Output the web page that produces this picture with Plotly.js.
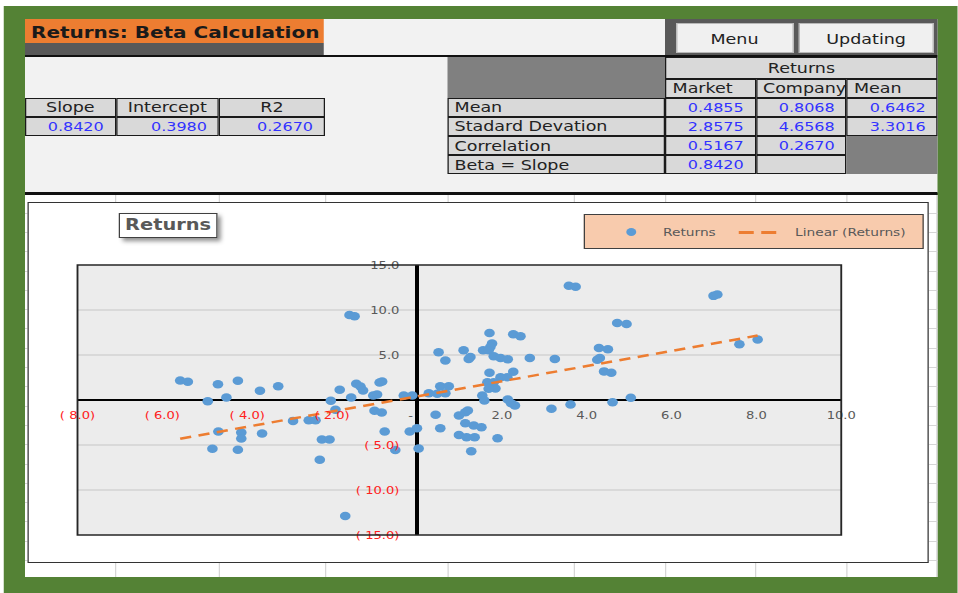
<!DOCTYPE html>
<html>
<head>
<meta charset="utf-8">
<script src="https://cdn.plot.ly/plotly-3.0.1.min.js"></script>
<style>
html,body{margin:0;padding:0;background:#ffffff;overflow:hidden;width:958px;height:593px;}
#page{position:absolute;left:0;top:0;width:766.4px;height:593px;transform:scaleX(1.25);transform-origin:0 0;font-family:"DejaVu Sans",Verdana,sans-serif;}
.b{position:absolute;box-sizing:border-box;white-space:nowrap;overflow:visible;}
</style>
</head>
<body>
<div id="page"></div>
<script>
// ---------------- data ----------------
const marketReturns = [
  -5.58,-5.40,-4.69,-4.22,-3.70,-3.27,-4.93,-4.49,-4.68,-4.14,-4.14,-3.65,-4.82,-4.22,
  -2.92,-2.55,-2.39,-2.24,-2.06,-2.29,-1.69,-1.59,-1.47,-1.82,-1.43,-1.33,-1.27,-1.55,
  -2.03,-1.92,-0.88,-0.82,-1.03,-0.94,-1.00,-0.83,-0.31,-0.11,-0.76,-0.17,0.00,-0.51,0.04,
  0.28,0.48,0.67,0.55,0.75,1.54,1.59,0.44,0.55,0.99,1.14,1.20,1.14,1.34,1.52,0.99,1.17,
  1.36,1.28,1.90,1.71,2.27,2.44,1.77,1.73,0.51,1.10,1.26,1.22,1.56,1.69,0.67,1.81,1.97,
  2.14,2.66,1.71,2.27,1.97,2.13,1.66,1.81,1.85,1.69,2.14,2.22,2.31,3.58,3.74,6.99,7.08,
  4.72,4.94,4.29,4.50,4.31,4.25,3.25,4.41,4.58,7.60,8.03,3.17,3.62,4.61,5.04
];
const companyReturns = [
  2.17,2.03,1.76,2.14,1.03,1.54,-0.13,0.28,-3.51,-3.62,-4.29,-3.73,-5.41,-5.52,
  -2.32,-2.25,-2.25,-4.40,-4.40,-6.63,-12.88,9.45,9.31,1.14,1.80,1.50,1.06,0.28,
  -0.09,-1.09,1.95,2.06,0.50,0.61,-1.20,-1.39,0.50,0.50,-3.51,-3.51,-3.14,-5.55,-5.40,
  0.76,0.69,0.76,1.54,1.54,0.50,-0.06,-1.65,-3.14,-1.73,-1.36,-1.17,-2.58,-2.84,-3.03,-3.88,-4.14,
  -4.14,-5.70,-4.24,7.45,7.30,7.08,6.27,5.89,5.30,5.52,4.77,4.55,5.52,5.52,4.40,4.85,4.66,
  4.52,4.66,3.03,3.14,2.54,2.54,1.98,1.98,1.28,1.25,0.06,-0.36,-0.61,12.69,12.58,11.57,11.73,
  8.56,8.45,5.78,5.63,4.66,4.48,4.55,3.18,3.03,6.19,6.71,-0.98,-0.50,-0.24,0.24
];
const slope = 0.8420;
const intercept = 0.3980;
const regLabels = ["Slope","Intercept","R2"];
const regValues = ["0.8420","0.3980","0.2670"];
const statRowLabels = ["Mean","Stadard Devation","Correlation","Beta = Slope"];
const statColLabels = ["Market","Company","Mean"];
const marketStats = ["0.4855","2.8575","0.5167","0.8420"];
const companyStats = ["0.8068","4.6568","0.2670",""];
const meanStats = ["0.6462","3.3016"];
const xTickVals = [-8,-6,-4,-2,0,2,4,6,8,10];
const xTickText = ["( 8.0)","( 6.0)","( 4.0)","( 2.0)","-\u00A0\u00A0\u00A0","2.0","4.0","6.0","8.0","10.0"];
const yTickVals = [-15,-10,-5,0,5,10,15];
const yTickText = ["( 15.0)","( 10.0)","( 5.0)","","5.0","10.0","15.0"];
const xRange = [-8,10];
const yRange = [-15,15];

// ---------------- helpers (page px -> unscaled) ----------------
const S = 1.25;
const page = document.getElementById('page');
function box(x0,y0,x1,y1,css,text){
  const d=document.createElement('div');
  d.className='b';
  d.style.left=(x0/S)+'px'; d.style.top=y0+'px';
  d.style.width=((x1-x0)/S)+'px'; d.style.height=(y1-y0)+'px';
  Object.assign(d.style, css||{});
  if(text!==undefined){ d.textContent=text; }
  page.appendChild(d); return d;
}
function cell(x0,y0,x1,y1,text,opt){
  opt=opt||{};
  const css={background:opt.bg||'#D9D9D9',border:opt.border===false?'none':'1px solid #1a1a1a',
    display:'flex',alignItems:'center',
    justifyContent:opt.align==='right'?'flex-end':(opt.align==='center'?'center':'flex-start'),
    paddingLeft:(opt.align==='left'?4.8:0)+'px',paddingRight:(opt.align==='right'?8.6:0)+'px',
    paddingTop:(opt.padTop||0)+'px',
    fontSize:(opt.size||14)+'px',color:opt.color||'#222',fontWeight:opt.bold?'bold':'normal'};
  return box(x0,y0,x1,y1,css,text);
}

// ---------------- sheet ----------------
box(4,6,958,593,{background:'#548235'});
box(25,19.3,937.7,193.3,{background:'#F2F2F2'});
cell(25,19.3,323.3,42.7,"Returns: Beta Calculation",{bg:'#ED7D31',border:false,align:'left',size:16,bold:true,color:'#1a1a1a',padTop:4});
box(25,42.7,323.3,55.3,{background:'#595959'});
box(664.7,19.3,937.7,55.3,{background:'#595959'});
cell(675.7,22.7,793.3,52.7,"Menu",{bg:'#F0F0F0',align:'center',color:'#222',padTop:2}).style.border='1px solid #B8B8B8';
cell(799,22.7,933.3,52.7,"Updating",{bg:'#F0F0F0',align:'center',color:'#222',padTop:2}).style.border='1px solid #B8B8B8';
box(25,55.3,937.7,57.5,{background:'#111'});
// right statistics table
box(447.3,57.3,665.3,97.7,{background:'#808080'});
cell(665.3,57.3,937.7,79,"Returns",{align:'center'});
const colX=[665.3,755.7,846.7,937.7];
statColLabels.forEach((c,i)=>cell(colX[i],79,colX[i+1],97.7,c,{align:'left'}));
const rowY=[97.7,116.7,136,155.3,174];
statRowLabels.forEach((r,i)=>{
  cell(447.3,rowY[i],665.3,rowY[i+1],r,{align:'left'});
  cell(colX[0],rowY[i],colX[1],rowY[i+1],marketStats[i],{align:'right',color:'#3232FF',size:12.8});
  cell(colX[1],rowY[i],colX[2],rowY[i+1],companyStats[i],{align:'right',color:'#3232FF',size:12.8});
  if(i<meanStats.length){ cell(colX[2],rowY[i],colX[3],rowY[i+1],meanStats[i],{align:'right',color:'#3232FF',size:12.8}); }
});
box(846.7,136,937.7,174,{background:'#808080'});
// left regression table
const regX=[25,115.7,219,325];
regLabels.forEach((l,i)=>{
  cell(regX[i],97.7,regX[i+1],117.3,l,{align:'center'});
  cell(regX[i],117.3,regX[i+1],136,regValues[i],{align:'right',color:'#3232FF',size:12.8});
});
box(25,192.3,937.7,194.6,{background:'#111'});
// lower sheet with grid
box(25,194.6,937.7,577.3,{background:'#FFFFFF'});
[116,219,325,447.7,574.3,665,756,846.7,936.7].forEach(x=>box(x-0.6,194.6,x+0.6,577.3,{background:'#D6D6D6'}));
for(let y=212.6;y<577;y+=19.3){ box(25,y,937.7,y+1,{background:'#D6D6D6'}); }
// chart box
box(27,201.7,929.3,563.3,{background:'#FFFFFF',border:'1.5px solid #333'});
const plotDiv=box(27,201.7,929.3,563.3,{});
plotDiv.id='chart';

// chart title box
box(119,212.7,217.3,237.7,{background:'#fff',border:'1.5px solid #404040',boxShadow:'3px 3px 4px rgba(0,0,0,0.45)',
  display:'flex',alignItems:'center',justifyContent:'center',fontWeight:'bold',fontSize:'15.5px',color:'#595959'},"Returns");
// legend box
box(584,214,923.3,249.3,{background:'#F8CBAD',border:'1.5px solid #404040'});
box(626,228,636,236,{background:'#5B9BD5',borderRadius:'50%'});
box(663,224,740,240,{fontSize:'11px',color:'#595959',display:'flex',alignItems:'center'},"Returns");
box(739.3,231,753.3,233.6,{background:'#ED7D31'});
box(761,231,776.7,233.6,{background:'#ED7D31'});
box(795,224,920,240,{fontSize:'11px',color:'#595959',display:'flex',alignItems:'center'},"Linear (Returns)");

// ---------------- plot ----------------
function tickLabel(v,t){ return v<0 ? '<span style="color:#FF2020">'+t+'</span>' : t; }
const xMin=Math.min(...marketReturns), xMax=Math.max(...marketReturns);
const trendX=[xMin,xMax];
const trendY=trendX.map(x=>slope*x+intercept);
const traces=[
  {type:'scatter',mode:'markers',name:'Returns',x:marketReturns,y:companyReturns,
   marker:{color:'#5B9BD5',size:8.5,line:{width:0}},hoverinfo:'skip'},
  {type:'scatter',mode:'lines',name:'Linear (Returns)',x:trendX,y:trendY,
   line:{color:'#ED7D31',width:2.5,dash:'9px,6px'},hoverinfo:'skip'}
];
const W=(929.3-27)/S, H=563.3-201.7;
const layout={
  width:W,height:H,
  margin:{l:(77.3-27)/S,r:(929.3-840)/S,t:265-201.7,b:563.3-534,pad:0},
  paper_bgcolor:'rgba(0,0,0,0)',plot_bgcolor:'#ECECEC',
  showlegend:false,
  font:{family:'"DejaVu Sans", Verdana, sans-serif',size:10.5,color:'#595959'},
  xaxis:{range:xRange,anchor:'free',position:(0-yRange[0])/(yRange[1]-yRange[0]),
    showgrid:false,zeroline:true,zerolinecolor:'#000',zerolinewidth:2.6,showline:false,
    tickmode:'array',tickvals:xTickVals,ticktext:xTickVals.map((v,i)=>tickLabel(v,xTickText[i])),
    ticks:'',ticklabelstandoff:8,tickfont:{size:10.5,color:'#595959'},fixedrange:true},
  yaxis:{range:yRange,anchor:'free',position:(0-xRange[0])/(xRange[1]-xRange[0]),
    showgrid:true,gridcolor:'#D9D9D9',gridwidth:1.5,zeroline:true,zerolinecolor:'#000',zerolinewidth:2,showline:false,
    tickmode:'array',tickvals:yTickVals,ticktext:yTickVals.map((v,i)=>tickLabel(v,yTickText[i])),
    ticks:'',ticklabelstandoff:14,tickfont:{size:10.5,color:'#595959'},fixedrange:true},
  shapes:[{type:'rect',xref:'paper',yref:'paper',x0:0,x1:1,y0:0,y1:1,line:{color:'#262626',width:1.5},layer:'above'}]
};
Plotly.newPlot('chart',traces,layout,{displayModeBar:false,staticPlot:true});
</script>
</body>
</html>
